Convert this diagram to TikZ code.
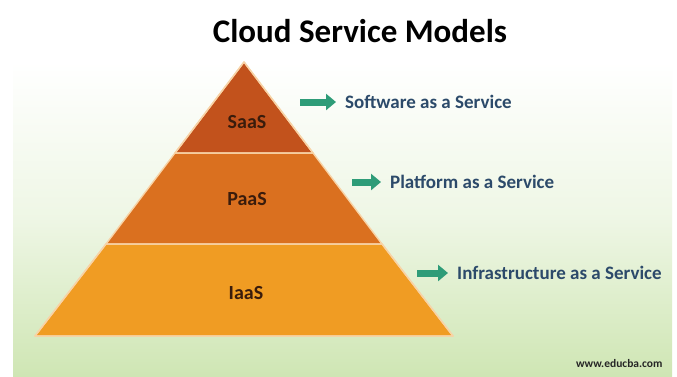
\documentclass[tikz,border=0pt]{standalone}
\usepackage{fontspec}
\setmainfont{Carlito}
\usetikzlibrary{calc,positioning,arrows.meta}

\definecolor{saascol}{HTML}{C2521C}
\definecolor{paascol}{HTML}{DA701F}
\definecolor{iaascol}{HTML}{F09C23}
\definecolor{seamcol}{HTML}{F8D3A6}
\definecolor{bggreen}{HTML}{CFE6B4}
\definecolor{arrowcol}{HTML}{2E9C78}
\definecolor{labelcol}{HTML}{2C4A6A}
\definecolor{tiercol}{HTML}{3A1C0C}

\tikzset{
  layer/.style={draw=seamcol, line width=1.4pt, line join=round},
  tier/.style={font=\fontsize{20}{22}\selectfont\bfseries, text=tiercol},
  service/.style={font=\fontsize{19}{21}\selectfont\bfseries, text=labelcol, inner sep=0pt, anchor=west},
  link/.style={draw=arrowcol, line width=7pt, shorten >=9pt, -{Triangle[length=10pt,width=16pt]}}
}

\begin{document}
\begin{tikzpicture}[x=1pt,y=-1pt]
    \useasboundingbox (0,0) rectangle (677,376);
    % Background
    \fill[white] (0,0) rectangle (677,376);
    \shade[top color=white, bottom color=bggreen, middle color=bggreen!35] (13,62) rectangle (672,376);
    % Title
    \node[font=\fontsize{33}{36}\selectfont\bfseries] (title) at (360,31) {Cloud Service Models};
    % Pyramid
    \coordinate (apex) at (244,62);
    \fill[layer, fill=iaascol] (106,244) -- (382,244) -- (453,336) -- (35,336) -- cycle;
    \fill[layer, fill=paascol] (175,153) -- (313,153) -- (382,244) -- (106,244) -- cycle;
    \fill[layer, fill=saascol] (apex) -- (313,153) -- (175,153) -- cycle;
    \draw[layer] (apex) -- (313,153) -- (175,153) -- cycle;
    \draw[layer] (106,244) -- (382,244) -- (453,336) -- (35,336) -- cycle;
    % Tier labels
    \node[tier] (saas) at (247,122) {SaaS};
    \node[tier] (paas) at (247,199) {PaaS};
    \node[tier] (iaas) at (246,293) {IaaS};
    % Service labels
    \node[service] (sw) at (345,102) {Software as a Service};
    \node[service] (pf) at (390,182) {Platform as a Service};
    \node[service] (inf) at (457,273) {Infrastructure as a Service};
    % Arrows
    \coordinate (swtail) at (300,102);
    \coordinate (pftail) at (352,182);
    \coordinate (inftail) at (417,273);
    \foreach \t/\s in {swtail/sw, pftail/pf, inftail/inf} {
      \draw[link] (\t) -- (\s);
    }
    % Site
    \node[font=\fontsize{11.5}{13}\selectfont\bfseries, text=black!85, anchor=east] (site) at (666,363) {www.educba.com};
\end{tikzpicture}
\end{document}
